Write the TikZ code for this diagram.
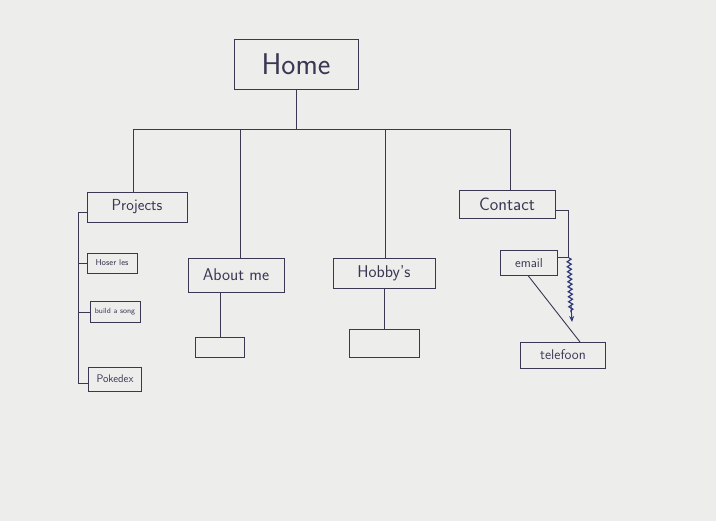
\documentclass[tikz,border=0pt]{standalone}
\usepackage{fontspec}
\usetikzlibrary{decorations.pathmorphing,arrows.meta}
\definecolor{ink}{HTML}{3B3652}
\definecolor{paper}{HTML}{EDEDEB}
\definecolor{pen}{HTML}{2E3A7A}
\tikzset{
  box/.style={draw=ink, line width=0.9pt, inner sep=0pt, text=ink, font=\fontsize{#1}{#1}\selectfont\sffamily},
  box/.default=11,
  wire/.style={draw=ink, line width=0.9pt},
}
\begin{document}
\begin{tikzpicture}[x=1pt,y=-1pt]
\fill[paper] (0,0) rectangle (716,521);
\useasboundingbox (0,0) rectangle (716,521);
% nodes
\node[box=30, minimum width=124, minimum height=50] (home) at (296,64) {Home};
\node[box=16, minimum width=100, minimum height=30] (proj) at (137,207) {Projects};
\node[box=8.5, minimum width=50, minimum height=20] (laser) at (112,263) {Hoser les};
\node[box=7.5, minimum width=50, minimum height=21] (build) at (115,312) {build a song};
\node[box=11, minimum width=53, minimum height=24] (poke) at (115,379) {Pokedex};
\node[box=17, minimum width=96, minimum height=34] (about) at (236,275) {About me};
\node[box=0.1, minimum width=49, minimum height=20] (aboutc) at (220,347) {};
\node[box=17, minimum width=102, minimum height=30] (hobby) at (384,273) {Hobby's};
\node[box=0.1, minimum width=70, minimum height=28] (hobbyc) at (384,343) {};
\node[box=18, minimum width=96, minimum height=28] (contact) at (507,204) {Contact};
\node[box=13, minimum width=57, minimum height=25] (email) at (529,263) {email};
\node[box=14, minimum width=85, minimum height=26] (tel) at (563,355) {telefoon};
% coordinates
\coordinate (bus) at (296,129);
\coordinate (bl) at (133,129);
\coordinate (br) at (510,129);
\coordinate (ba) at (240,129);
\coordinate (bh) at (385,129);
% main tree
\draw[wire] (home.south) -- (bus);
\draw[wire] (bl) -- (br);
\draw[wire] (bl) -- (bl |- proj.north);
\draw[wire] (ba) -- (ba |- about.north);
\draw[wire] (bh) -- (bh |- hobby.north);
\draw[wire] (br) -- (br |- contact.north);
% projects children
\coordinate (pt) at (78,212);
\coordinate (pb) at (78,383);
\draw[wire] (proj.west |- pt) -- (pt) -- (pb) -- (poke.west |- pb);
\draw[wire] (78,263) -- (laser.west);
\draw[wire] (78,312) -- (build.west);
% about / hobby children
\draw[wire] (aboutc.north |- about.south) -- (aboutc.north);
\draw[wire] (hobbyc.north |- hobby.south) -- (hobbyc.north);
% contact children
\coordinate (ct) at (568,210);
\coordinate (cm) at (568,257);
\draw[wire] (contact.east |- ct) -- (ct) -- (cm) -- (email.east |- cm);
\draw[wire] (528,275.5) -- (580,342);
\draw[draw=pen, line width=1.2pt, decorate, decoration={zigzag, segment length=5pt, amplitude=2pt}]
  (569,258) -- (571,312);
\draw[draw=pen, line width=1pt, -{Stealth[length=6pt,width=5pt]}] (571,305) -- (572,322);
\end{tikzpicture}
\end{document}
